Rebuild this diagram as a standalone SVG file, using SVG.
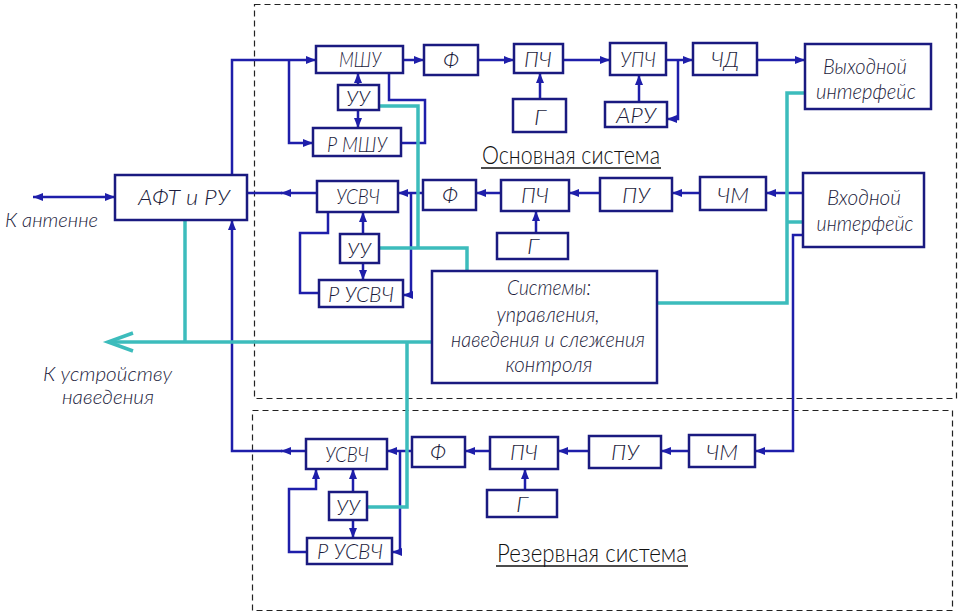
<svg xmlns="http://www.w3.org/2000/svg" width="961" height="615" viewBox="0 0 961 615">
<style>
.bx{fill:#fff;stroke:#1a1a80;stroke-width:2.5}
.ln{fill:none;stroke:#1e1eaa;stroke-width:2.5}
.tl{fill:none;stroke:#3cbcbc;stroke-width:3.5}
.ds{fill:none;stroke:#222;stroke-width:1.2;stroke-dasharray:6 4}
.t{font-family:Lato,"Liberation Sans",Arial,sans-serif;font-weight:300;font-style:italic;font-size:22px;fill:#1c1c3c;text-anchor:middle}
.ts{font-family:Lato,"Liberation Sans",Arial,sans-serif;font-weight:300;font-style:italic;font-size:20px;fill:#1c1c3c}
.ti{font-family:Lato,"Liberation Sans",Arial,sans-serif;font-weight:300;font-size:25px;fill:#111}
.ul{stroke:#111;stroke-width:1.6}
</style>
<defs>
<marker id="a" viewBox="0 0 10 8" refX="10" refY="4" markerWidth="10" markerHeight="8" markerUnits="userSpaceOnUse" orient="auto-start-reverse"><path d="M0,0L10,4L0,8z" fill="#1e1eaa"/></marker>
</defs>
<rect width="961" height="615" fill="#fff"/>
<g id="frames">
<rect class="ds" x="254.5" y="4.5" width="702" height="394"/>
<rect class="ds" x="252.5" y="410.5" width="700" height="200"/>
</g>
<g id="connectors">
<path class="ln" d="M33,197H115" marker-start="url(#a)" marker-end="url(#a)"/>
<path class="ln" d="M232,175V60H316" marker-end="url(#a)"/>
<path class="ln" d="M289,60V143H313" marker-end="url(#a)"/>
<path class="ln" d="M389,73V100H425V143H401"/>
<path class="ln" d="M358,85V73" marker-end="url(#a)"/>
<path class="ln" d="M358,110V128" marker-end="url(#a)"/>
<path class="ln" d="M403,60H424" marker-end="url(#a)"/>
<path class="ln" d="M478,60H514" marker-end="url(#a)"/>
<path class="ln" d="M540,99V73" marker-end="url(#a)"/>
<path class="ln" d="M563,60H610" marker-end="url(#a)"/>
<path class="ln" d="M639,102V75" marker-end="url(#a)"/>
<path class="ln" d="M666,60H693" marker-end="url(#a)"/>
<path class="ln" d="M678,60V119H667" marker-end="url(#a)"/>
<path class="ln" d="M757,60H805" marker-end="url(#a)"/>
<path class="ln" d="M803,193H766" marker-end="url(#a)"/>
<path class="ln" d="M700,193H672" marker-end="url(#a)"/>
<path class="ln" d="M600,193H569" marker-end="url(#a)"/>
<path class="ln" d="M501,193H476" marker-end="url(#a)"/>
<path class="ln" d="M536,233V211" marker-end="url(#a)"/>
<path class="ln" d="M423,193H398" marker-end="url(#a)"/>
<path class="ln" d="M411,193V295H403" marker-end="url(#a)"/>
<path class="ln" d="M317,193H281" marker-end="url(#a)"/>
<path class="ln" d="M282,193H247"/>
<path class="ln" d="M328,212V233H300V293H319"/>
<path class="ln" d="M363,234V212" marker-end="url(#a)"/>
<path class="ln" d="M363,263V280" marker-end="url(#a)"/>
<path class="ln" d="M803,235H793V451H755" marker-end="url(#a)"/>
<path class="ln" d="M689,451H661" marker-end="url(#a)"/>
<path class="ln" d="M589,451H558" marker-end="url(#a)"/>
<path class="ln" d="M490,451H465" marker-end="url(#a)"/>
<path class="ln" d="M412,451H387" marker-end="url(#a)"/>
<path class="ln" d="M400,451V552H392" marker-end="url(#a)"/>
<path class="ln" d="M306,451H281" marker-end="url(#a)"/>
<path class="ln" d="M282,451H232V220" marker-end="url(#a)"/>
<path class="ln" d="M525,490V469" marker-end="url(#a)"/>
<path class="ln" d="M353,492V469" marker-end="url(#a)"/>
<path class="ln" d="M353,520V538" marker-end="url(#a)"/>
<path class="ln" d="M307,552H289V489H316V469" marker-end="url(#a)"/>
<path class="tl" d="M379,106H418V248"/>
<path class="tl" d="M379,248H467V271"/>
<path class="tl" d="M805,93H787V303H657"/>
<path class="tl" d="M787,222H803"/>
<path class="tl" d="M185,220V342"/>
<path class="tl" d="M432,342H108"/>
<path class="tl" d="M133,333L108,342L133,351"/>
<path class="tl" d="M407,342V507H367"/>
</g>
<g id="node-afu"><rect class="bx" x="115" y="175" width="132" height="45"/><text class="t" x="184" y="205" textLength="92" lengthAdjust="spacingAndGlyphs">АФТ и РУ</text></g>
<g id="node-mshu"><rect class="bx" x="316" y="46" width="87" height="27"/><text class="t" x="360" y="67" textLength="42" lengthAdjust="spacingAndGlyphs">МШУ</text></g>
<g id="node-uu1"><rect class="bx" x="338" y="85" width="41" height="25"/><text class="t" x="358" y="106" textLength="24" lengthAdjust="spacingAndGlyphs">УУ</text></g>
<g id="node-rmshu"><rect class="bx" x="313" y="128" width="88" height="28"/><text class="t" x="357" y="152" textLength="60" lengthAdjust="spacingAndGlyphs">Р МШУ</text></g>
<g id="node-f1"><rect class="bx" x="424" y="45" width="54" height="30"/><text class="t" x="451" y="68" textLength="16" lengthAdjust="spacingAndGlyphs">Ф</text></g>
<g id="node-pch1"><rect class="bx" x="514" y="44" width="49" height="29"/><text class="t" x="538" y="67" textLength="28" lengthAdjust="spacingAndGlyphs">ПЧ</text></g>
<g id="node-g1"><rect class="bx" x="513" y="99" width="53" height="33"/><text class="t" x="540" y="125" textLength="12" lengthAdjust="spacingAndGlyphs">Г</text></g>
<g id="node-upch"><rect class="bx" x="610" y="43" width="56" height="32"/><text class="t" x="638" y="67" textLength="36" lengthAdjust="spacingAndGlyphs">УПЧ</text></g>
<g id="node-aru"><rect class="bx" x="605" y="102" width="62" height="25"/><text class="t" x="636" y="123" textLength="40" lengthAdjust="spacingAndGlyphs">АРУ</text></g>
<g id="node-chd"><rect class="bx" x="693" y="43" width="64" height="32"/><text class="t" x="725" y="67" textLength="28" lengthAdjust="spacingAndGlyphs">ЧД</text></g>
<g id="node-out"><rect class="bx" x="805" y="44" width="126" height="65"/><text class="t" x="865" y="74" textLength="84" lengthAdjust="spacingAndGlyphs">Выходной</text><text class="t" x="866" y="99" textLength="100" lengthAdjust="spacingAndGlyphs">интерфейс</text></g>
<g id="node-usvch1"><rect class="bx" x="317" y="181" width="81" height="31"/><text class="t" x="358" y="204" textLength="44" lengthAdjust="spacingAndGlyphs">УСВЧ</text></g>
<g id="node-f2"><rect class="bx" x="423" y="180" width="53" height="30"/><text class="t" x="450" y="203" textLength="16" lengthAdjust="spacingAndGlyphs">Ф</text></g>
<g id="node-pch2"><rect class="bx" x="501" y="180" width="68" height="31"/><text class="t" x="535" y="203" textLength="28" lengthAdjust="spacingAndGlyphs">ПЧ</text></g>
<g id="node-g2"><rect class="bx" x="497" y="233" width="71" height="26"/><text class="t" x="533" y="254" textLength="12" lengthAdjust="spacingAndGlyphs">Г</text></g>
<g id="node-pu1"><rect class="bx" x="600" y="178" width="72" height="33"/><text class="t" x="636" y="203" textLength="28" lengthAdjust="spacingAndGlyphs">ПУ</text></g>
<g id="node-chm1"><rect class="bx" x="700" y="177" width="66" height="33"/><text class="t" x="733" y="203" textLength="32" lengthAdjust="spacingAndGlyphs">ЧМ</text></g>
<g id="node-in"><rect class="bx" x="803" y="173" width="121" height="74"/><text class="t" x="864" y="205" textLength="74" lengthAdjust="spacingAndGlyphs">Входной</text><text class="t" x="865" y="231" textLength="97" lengthAdjust="spacingAndGlyphs">интерфейс</text></g>
<g id="node-uu2"><rect class="bx" x="340" y="234" width="39" height="29"/><text class="t" x="359" y="258" textLength="24" lengthAdjust="spacingAndGlyphs">УУ</text></g>
<g id="node-rusvch1"><rect class="bx" x="319" y="280" width="84" height="27"/><text class="t" x="361" y="302" textLength="66" lengthAdjust="spacingAndGlyphs">Р УСВЧ</text></g>
<g id="node-sys"><rect class="bx" x="432" y="271" width="225" height="112"/>
<text class="t" x="549" y="295" textLength="84" lengthAdjust="spacingAndGlyphs">Системы:</text>
<text class="t" x="548" y="322" textLength="103" lengthAdjust="spacingAndGlyphs">управления,</text>
<text class="t" x="548" y="347" textLength="194" lengthAdjust="spacingAndGlyphs">наведения и слежения</text>
<text class="t" x="549" y="372" textLength="87" lengthAdjust="spacingAndGlyphs">контроля</text></g>
<g id="node-usvch2"><rect class="bx" x="306" y="439" width="81" height="30"/><text class="t" x="347" y="462" textLength="44" lengthAdjust="spacingAndGlyphs">УСВЧ</text></g>
<g id="node-uu3"><rect class="bx" x="329" y="492" width="38" height="28"/><text class="t" x="348" y="515" textLength="24" lengthAdjust="spacingAndGlyphs">УУ</text></g>
<g id="node-rusvch2"><rect class="bx" x="307" y="538" width="85" height="26"/><text class="t" x="350" y="559" textLength="66" lengthAdjust="spacingAndGlyphs">Р УСВЧ</text></g>
<g id="node-f3"><rect class="bx" x="412" y="437" width="53" height="30"/><text class="t" x="438" y="460" textLength="16" lengthAdjust="spacingAndGlyphs">Ф</text></g>
<g id="node-pch3"><rect class="bx" x="490" y="437" width="68" height="32"/><text class="t" x="524" y="460" textLength="28" lengthAdjust="spacingAndGlyphs">ПЧ</text></g>
<g id="node-g3"><rect class="bx" x="487" y="490" width="70" height="27"/><text class="t" x="522" y="512" textLength="12" lengthAdjust="spacingAndGlyphs">Г</text></g>
<g id="node-pu2"><rect class="bx" x="589" y="436" width="72" height="32"/><text class="t" x="625" y="460" textLength="28" lengthAdjust="spacingAndGlyphs">ПУ</text></g>
<g id="node-chm2"><rect class="bx" x="689" y="435" width="66" height="32"/><text class="t" x="722" y="460" textLength="32" lengthAdjust="spacingAndGlyphs">ЧМ</text></g>
<g id="labels">
<text class="ts" x="5" y="227" font-size="22" textLength="93" lengthAdjust="spacingAndGlyphs">К антенне</text>
<text class="ts" x="43" y="381" textLength="129" lengthAdjust="spacingAndGlyphs">К устройству</text>
<text class="ts" x="62" y="404" textLength="92" lengthAdjust="spacingAndGlyphs">наведения</text>
<text class="ti" x="482" y="164" textLength="178" lengthAdjust="spacingAndGlyphs">Основная система</text>
<line class="ul" x1="481" y1="168" x2="661" y2="168"/>
<text class="ti" x="497" y="562" textLength="190" lengthAdjust="spacingAndGlyphs">Резервная система</text>
<line class="ul" x1="496" y1="566" x2="688" y2="566"/>
</g>
</svg>
